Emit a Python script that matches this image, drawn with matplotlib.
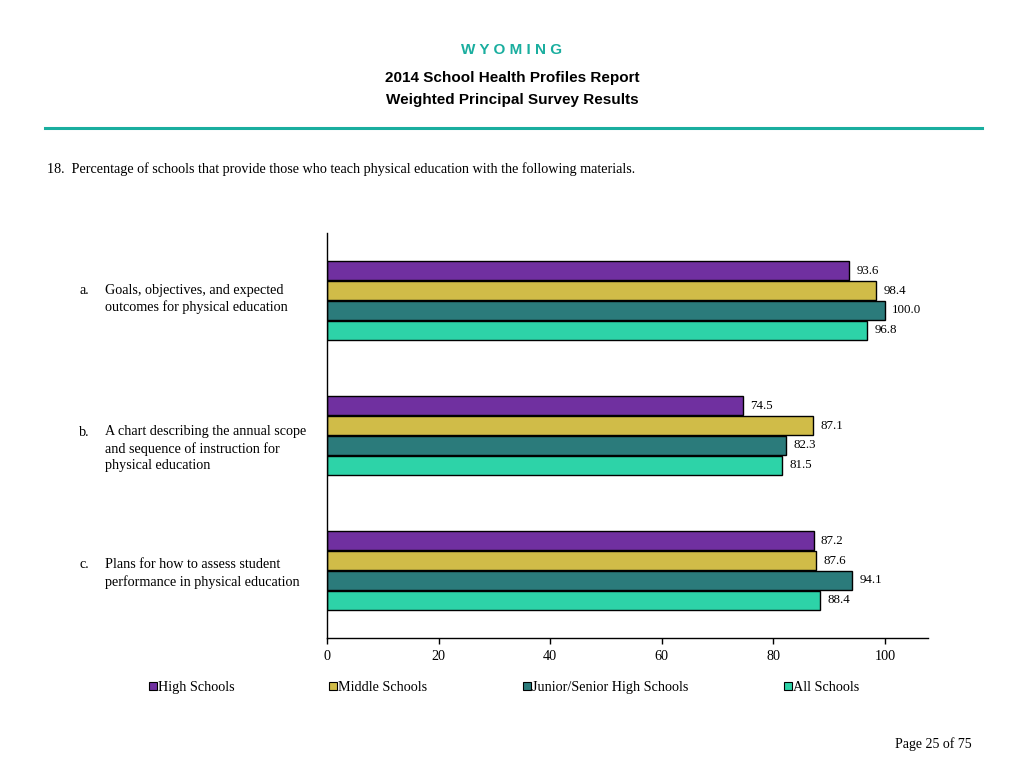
import matplotlib.pyplot as plt
import numpy as np

plt.rcParams['font.family'] = ['Liberation Serif', 'DejaVu Serif']

series = ['High Schools', 'Middle Schools', 'Junior/Senior High Schools', 'All Schools']
colors = ['#7030A0', '#D0BC48', '#2B7B7B', '#2DD3A8']
categories = ['a.', 'b.', 'c.']
cat_text = [['Goals, objectives, and expected', 'outcomes for physical education'],
            ['A chart describing the annual scope', 'and sequence of instruction for', 'physical education'],
            ['Plans for how to assess student', 'performance in physical education']]
values = {
    'High Schools': [93.6, 74.5, 87.2],
    'Middle Schools': [98.4, 87.1, 87.6],
    'Junior/Senior High Schools': [100.0, 82.3, 94.1],
    'All Schools': [96.8, 81.5, 88.4],
}

W, H = 1024, 768
fig = plt.figure(figsize=(W / 100, H / 100), dpi=100)
ax = fig.add_axes([327 / W, 1 - 638 / H, 601 / W, 405 / H])

bh = 0.148
offsets = np.array([-1.5, -0.5, 0.5, 1.5]) * bh
centers = np.arange(len(categories)) + 0.5
for i, s in enumerate(series):
    ys = centers + offsets[i]
    ax.barh(ys, values[s], height=bh * 0.95, color=colors[i], edgecolor='black', linewidth=1.0)
    for y, v in zip(ys, values[s]):
        ax.text(v + 1.3, y, '%.1f' % v, va='center', ha='left', fontsize=9.3)

ax.set_xlim(0, 107.7)
ax.set_ylim(3, 0)
ax.set_xticks([0, 20, 40, 60, 80, 100])
ax.tick_params(axis='x', labelsize=10.2, length=4, width=1, pad=5)
ax.set_yticks([])
for sp in ['top', 'right']:
    ax.spines[sp].set_visible(False)
for sp in ['left', 'bottom']:
    ax.spines[sp].set_linewidth(1.0)

# category labels, one text per line
first_line_y = [290, 432, 565]
for c, lines, y0 in zip(categories, cat_text, first_line_y):
    fig.text(79 / W, 1 - y0 / H, c, ha='left', va='center', fontsize=10.2)
    for k, t in enumerate(lines):
        fig.text(105 / W, 1 - (y0 + 17 * k) / H, t, ha='left', va='center', fontsize=10.2)

# legend
leg_x = [149, 329, 523, 784]
for i, s in enumerate(series):
    fig.patches.append(plt.Rectangle((leg_x[i] / W, 1 - 690 / H), 8 / W, 8 / H,
                                     transform=fig.transFigure, facecolor=colors[i],
                                     edgecolor='black', linewidth=0.8))
    fig.text((leg_x[i] + 9) / W, 1 - 686 / H, s, ha='left', va='center_baseline', fontsize=10.2)

# header
fig.text(0.5, 1 - 50 / H, 'W Y O M I N G', ha='center', va='center', fontsize=11,
         color='#1AAE9F', fontweight='bold', family='Liberation Sans')
fig.text(0.5, 1 - 78 / H, '2014 School Health Profiles Report', ha='center', va='center',
         fontsize=11, fontweight='bold', family='Liberation Sans')
fig.text(0.5, 1 - 100 / H, 'Weighted Principal Survey Results', ha='center', va='center',
         fontsize=11, fontweight='bold', family='Liberation Sans')
fig.add_artist(plt.Line2D([45 / W, 982 / W], [1 - 128 / H, 1 - 128 / H], color='#1AAE9F', linewidth=2.2))
fig.text(47 / W, 1 - 169 / H, '18.  Percentage of schools that provide those who teach physical education with the following materials.',
         ha='left', va='center', fontsize=10.2)
fig.text(972 / W, 1 - 744 / H, 'Page 25 of 75', ha='right', va='center', fontsize=10)

plt.savefig('out.png', dpi=100)
